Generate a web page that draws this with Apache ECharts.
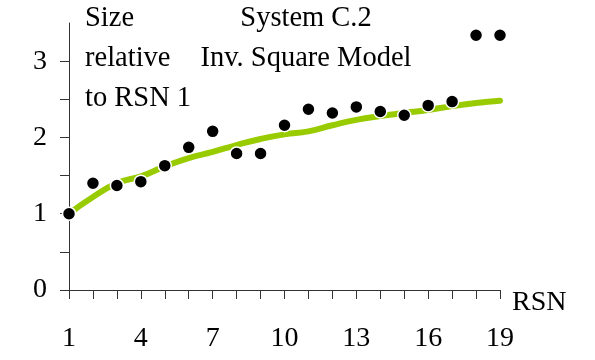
<!DOCTYPE html>
<html>
<head>
<meta charset="utf-8">
<script src="https://cdn.jsdelivr.net/npm/echarts@6/dist/echarts.min.js"></script>
<style>html,body{margin:0;padding:0;background:#fff}#c{width:595px;height:360px}</style>
</head>
<body>
<div id="c"></div>
<script>
var rsn = [1,2,3,4,5,6,7,8,9,10,11,12,13,14,15,16,17,18,19];
var observed = [1.00,1.40,1.37,1.42,1.63,1.87,2.08,1.79,1.79,2.16,2.37,2.32,2.40,2.34,2.29,2.42,2.47,3.34,3.34];
var model = [1.00,1.22,1.40,1.49,1.62,1.73,1.81,1.90,1.98,2.04,2.08,2.16,2.23,2.28,2.32,2.36,2.41,2.45,2.48];
var xTickLabels = [1,4,7,10,13,16,19];
var yTickLabels = [0,1,2,3];

var FONT = '"Liberation Serif", "Times New Roman", serif';
var chart = echarts.init(document.getElementById('c'), null, {renderer:'canvas'});
function pairs(xs, ys){ return xs.map(function(x,i){return [x, ys[i]];}); }
chart.setOption({
  animation:false,
  backgroundColor:'#fff',
  grid:{left:69, right:95, top:23, bottom:70},
  xAxis:{
    type:'value', min:1, max:19, interval:1,
    axisLine:{lineStyle:{color:'#333', width:1}},
    axisTick:{show:true, inside:false, length:9, lineStyle:{color:'#333'}},
    splitLine:{show:false},
    axisLabel:{
      margin:35, color:'#000', fontFamily:FONT, fontSize:28,
      formatter:function(v){ return xTickLabels.indexOf(v) >= 0 ? String(v) : ''; }
    }
  },
  yAxis:{
    type:'value', min:0, max:3.5, interval:0.5,
    axisLine:{show:true, lineStyle:{color:'#333', width:1}},
    axisTick:{show:true, inside:false, length:9, lineStyle:{color:'#333'}},
    splitLine:{show:false},
    axisLabel:{
      margin:22, color:'#000', fontFamily:FONT, fontSize:28,
      showMaxLabel:false,
      formatter:function(v){ return yTickLabels.indexOf(v) >= 0 ? String(v) : ''; }
    }
  },
  graphic:[
    {type:'text', left:85, top:4, style:{text:'Size', font:'28.5px '+FONT, fill:'#000'}},
    {type:'text', left:85, top:44, style:{text:'relative', font:'28.5px '+FONT, fill:'#000'}},
    {type:'text', left:85, top:84, style:{text:'to RSN 1', font:'28.5px '+FONT, fill:'#000'}},
    {type:'text', x:306, y:4, style:{text:'System C.2', font:'28.5px '+FONT, fill:'#000', align:'center', verticalAlign:'top'}},
    {type:'text', x:306, y:44, style:{text:'Inv. Square Model', font:'28.5px '+FONT, fill:'#000', align:'center', verticalAlign:'top'}},
    {type:'text', x:512, y:289, style:{text:'RSN', font:'28px '+FONT, fill:'#000', align:'left', verticalAlign:'top'}}
  ],
  series:[
    {
      type:'line', data:pairs(rsn, model), smooth:true, symbol:'none', z:2,
      lineStyle:{color:'#99CC00', width:6, cap:'round'}
    },
    {
      type:'scatter', data:pairs(rsn, observed), symbol:'circle', symbolSize:13, z:3,
      itemStyle:{color:'#000', opacity:1, borderColor:'#fff', borderWidth:1.5}
    }
  ]
});
</script>
</body>
</html>
